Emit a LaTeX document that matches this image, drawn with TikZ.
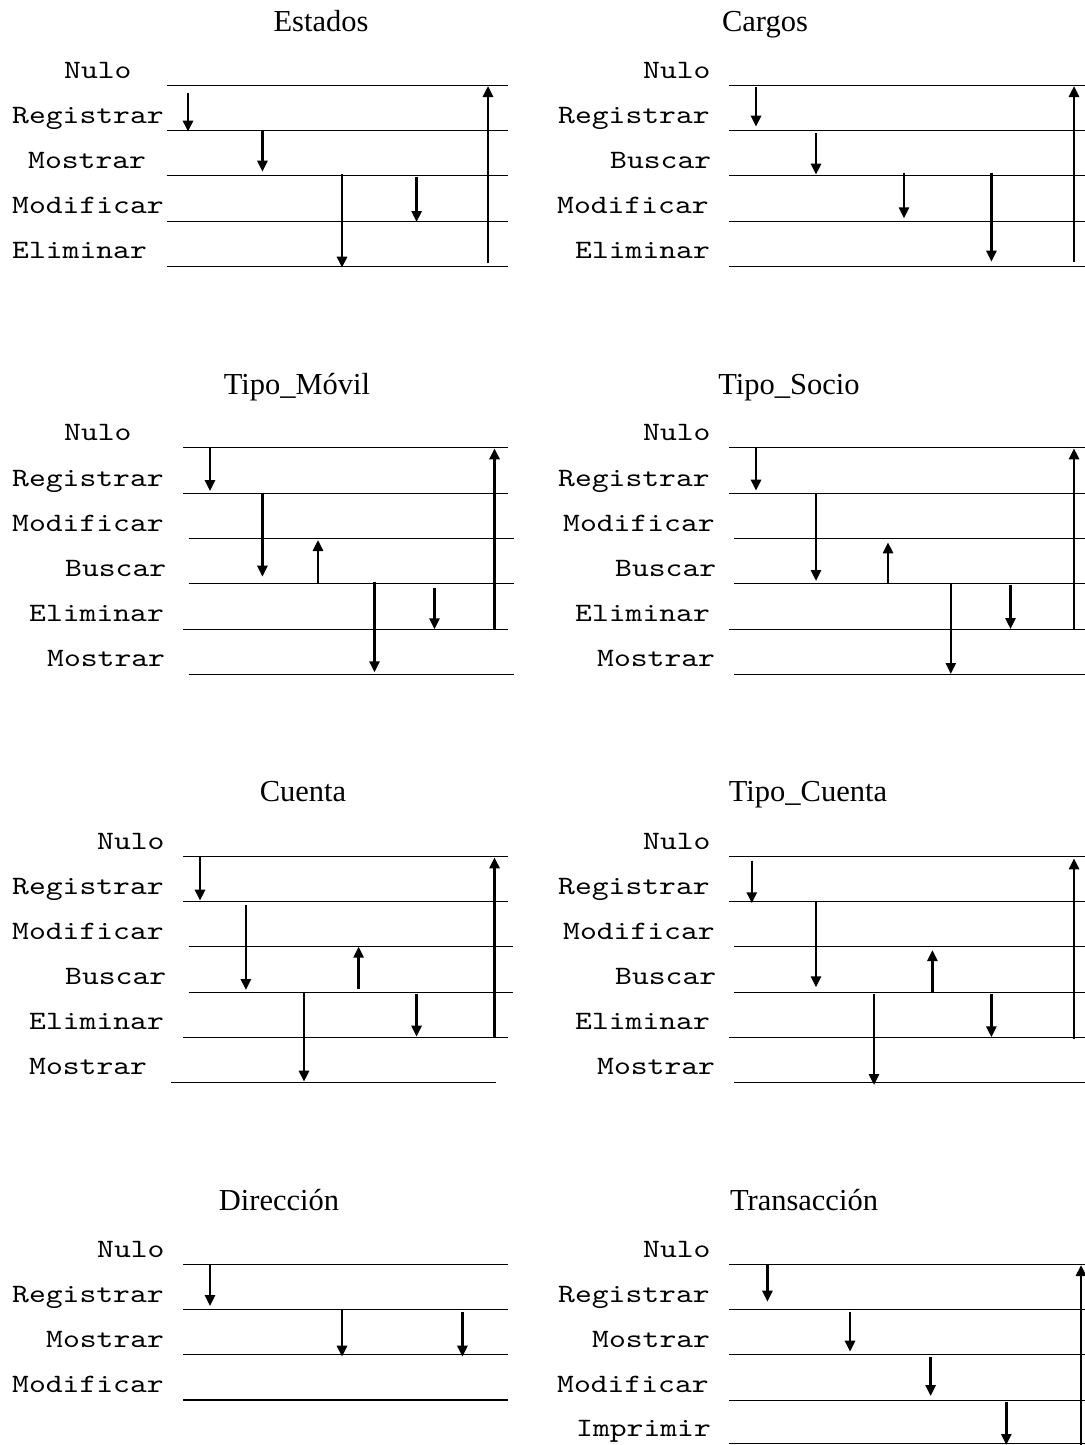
\documentclass[tikz,border=0pt]{standalone}
\usepackage{fontspec}
\setmainfont{Liberation Serif}
\newfontfamily\statefont[FakeStretch=1.21]{lmmono10-regular.otf}
\usetikzlibrary{arrows.meta}

% horizontal state line: name, y, x-from, x-to
\newcommand\statelane[4]{%
  \coordinate (#1-a) at (#3,#2);
  \coordinate (#1-b) at (#4,#2);
  \draw[lane] (#1-a) -- (#1-b);}
% vertical transition arrow: name, x, y-from, y-to
\newcommand\flowarrow[4]{%
  \coordinate (#1-s) at (#2,#3);
  \coordinate (#1-e) at (#2,#4);
  \draw[flow] (#1-s) -- (#1-e);}
% state label: name, x, baseline, text
\newcommand\statelabel[4]{\node[state] (#1) at (#2,#3) {#4};}

\tikzset{
  lane/.style={line width=1.3pt},
  flow/.style={line width=2.6pt, -{Triangle[width=10pt,length=11pt]}},
  title/.style={font=\fontsize{30.5}{36}\selectfont, anchor=base, inner sep=0pt},
  state/.style={font=\statefont\fontsize{26.5}{32}\selectfont, anchor=base west, inner sep=0pt},
}

\begin{document}
\begin{tikzpicture}[x=1pt,y=-1pt]
\fill[white] (0,0) rectangle (1084,1445);
\useasboundingbox (0,0) rectangle (1084,1445);

% ---------------- Estados ----------------
\node[title] (t1) at (321,32) {Estados};
\statelabel{e-nul}{64}{78}{Nulo}
\statelabel{e-reg}{12}{123}{Registrar}
\statelabel{e-mos}{28}{168}{Mostrar}
\statelabel{e-mod}{12}{213}{Modificar}
\statelabel{e-eli}{12}{258}{Eliminar}
\statelane{e1}{85.3}{166.6}{508}
\statelane{e2}{130.7}{166.6}{508}
\statelane{e3}{175.3}{166.6}{508}
\statelane{e4}{221.3}{166.6}{508}
\statelane{e5}{266.3}{166.6}{508}
\flowarrow{ea1}{188}{92.7}{131.7}
\flowarrow{ea2}{262.4}{130.7}{171.7}
\flowarrow{ea3}{342}{174}{267.7}
\flowarrow{ea4}{416.6}{176.7}{222}
\flowarrow{ea5}{488}{263.3}{86}

% ---------------- Cargos ----------------
\node[title] (t2) at (765,32) {Cargos};
\statelabel{c-nul}{643}{78}{Nulo}
\statelabel{c-reg}{558}{123}{Registrar}
\statelabel{c-bus}{610}{168}{Buscar}
\statelabel{c-mod}{557}{213}{Modificar}
\statelabel{c-eli}{575}{258}{Eliminar}
\statelane{c1}{85.7}{729}{1090}
\statelane{c2}{130.7}{729}{1090}
\statelane{c3}{175.3}{729}{1090}
\statelane{c4}{221.3}{729}{1090}
\statelane{c5}{266.3}{729}{1090}
\flowarrow{ca1}{756}{87.3}{126.7}
\flowarrow{ca2}{816}{133}{174.7}
\flowarrow{ca3}{904}{172.7}{218.3}
\flowarrow{ca4}{991.4}{172.7}{261.7}
\flowarrow{ca5}{1074}{261.7}{86}

% ---------------- Tipo_Móvil ----------------
\node[title] (t3) at (297,394) {Tipo\_Móvil};
\statelabel{m-nul}{64}{440}{Nulo}
\statelabel{m-reg}{12}{486}{Registrar}
\statelabel{m-mod}{12}{531}{Modificar}
\statelabel{m-bus}{65}{576}{Buscar}
\statelabel{m-eli}{29}{621.7}{Eliminar}
\statelabel{m-mos}{47}{666.7}{Mostrar}
\statelane{m1}{447.3}{183.4}{508}
\statelane{m2}{493.7}{183.4}{508}
\statelane{m3}{538.3}{188.6}{513.8}
\statelane{m4}{583.3}{188.6}{513.8}
\statelane{m5}{629.3}{183.4}{508}
\statelane{m6}{674.7}{188.6}{513.8}
\flowarrow{ma1}{210}{448.3}{491}
\flowarrow{ma2}{262.4}{492.7}{576.7}
\flowarrow{ma3}{318}{582.7}{540}
\flowarrow{ma4}{374.5}{581.7}{672.3}
\flowarrow{ma5}{434.5}{587.7}{629.3}
\flowarrow{ma6}{494.5}{629.3}{448.3}

% ---------------- Tipo_Socio ----------------
\node[title] (t4) at (789,394) {Tipo\_Socio};
\statelabel{s-nul}{643}{440}{Nulo}
\statelabel{s-reg}{558}{486}{Registrar}
\statelabel{s-mod}{563}{531}{Modificar}
\statelabel{s-bus}{615}{576}{Buscar}
\statelabel{s-eli}{575}{621.7}{Eliminar}
\statelabel{s-mos}{597}{666.7}{Mostrar}
\statelane{s1}{447.3}{729}{1090}
\statelane{s2}{493.7}{729}{1090}
\statelane{s3}{538.3}{734.4}{1090}
\statelane{s4}{583.3}{734.4}{1090}
\statelane{s5}{629.3}{729}{1090}
\statelane{s6}{674.7}{734.4}{1090}
\flowarrow{sa1}{756}{448.3}{490.7}
\flowarrow{sa2}{816}{493.7}{581}
\flowarrow{sa3}{888}{583.3}{542.3}
\flowarrow{sa4}{950.8}{582.7}{674}
\flowarrow{sa5}{1010.5}{585}{629}
\flowarrow{sa6}{1074}{629.3}{448.3}

% ---------------- Cuenta ----------------
\node[title] (t5) at (303,801.7) {Cuenta};
\statelabel{u-nul}{97}{849.3}{Nulo}
\statelabel{u-reg}{12}{894.3}{Registrar}
\statelabel{u-mod}{12}{939.3}{Modificar}
\statelabel{u-bus}{65}{984.3}{Buscar}
\statelabel{u-eli}{29}{1029.3}{Eliminar}
\statelabel{u-mos}{29}{1074.3}{Mostrar}
\statelane{u1}{856.7}{183.4}{508}
\statelane{u2}{901.7}{183.4}{508}
\statelane{u3}{946.7}{188.6}{513}
\statelane{u4}{992.3}{188.6}{513}
\statelane{u5}{1037.3}{183.4}{508}
\statelane{u6}{1082.3}{171.4}{496}
\flowarrow{ua1}{200}{857.3}{900.7}
\flowarrow{ua2}{245.9}{905}{990}
\flowarrow{ua3}{358.6}{989}{946.7}
\flowarrow{ua4}{304}{992.3}{1081.7}
\flowarrow{ua5}{416.6}{994}{1036.7}
\flowarrow{ua6}{494.5}{1037.3}{857.3}

% ---------------- Tipo_Cuenta ----------------
\node[title] (t6) at (808,801.7) {Tipo\_Cuenta};
\statelabel{k-nul}{643}{849.3}{Nulo}
\statelabel{k-reg}{558}{894.3}{Registrar}
\statelabel{k-mod}{563}{939.3}{Modificar}
\statelabel{k-bus}{615}{984.3}{Buscar}
\statelabel{k-eli}{575}{1029.3}{Eliminar}
\statelabel{k-mos}{597}{1074.3}{Mostrar}
\statelane{k1}{856.7}{729}{1090}
\statelane{k2}{901.7}{729}{1090}
\statelane{k3}{946.7}{734.4}{1090}
\statelane{k4}{992.3}{734.4}{1090}
\statelane{k5}{1037.3}{729}{1090}
\statelane{k6}{1082.3}{734.4}{1090}
\flowarrow{ka1}{751.8}{860.7}{903.3}
\flowarrow{ka2}{816}{900.7}{987.3}
\flowarrow{ka3}{932.4}{991.7}{950}
\flowarrow{ka4}{874}{994}{1085}
\flowarrow{ka5}{991.4}{994}{1037.3}
\flowarrow{ka6}{1074}{1039.3}{858.3}

% ---------------- Dirección ----------------
\node[title] (t7) at (279,1210.7) {Dirección};
\statelabel{d-nul}{97}{1257.3}{Nulo}
\statelabel{d-reg}{12}{1302.3}{Registrar}
\statelabel{d-mos}{46}{1347.3}{Mostrar}
\statelabel{d-mod}{12}{1392.3}{Modificar}
\statelane{d1}{1264.3}{183.4}{508}
\statelane{d2}{1309.7}{183.4}{508}
\statelane{d3}{1354.3}{183.4}{508}
\statelane{d4}{1400}{183.4}{508}
\flowarrow{da1}{210}{1265}{1306}
\flowarrow{da2}{342}{1309.7}{1356.7}
\flowarrow{da3}{462.4}{1311.7}{1356.7}

% ---------------- Transacción ----------------
\node[title] (t8) at (804,1210.7) {Transacción};
\statelabel{x-nul}{643}{1257.3}{Nulo}
\statelabel{x-reg}{558}{1302.3}{Registrar}
\statelabel{x-mos}{592}{1347.3}{Mostrar}
\statelabel{x-mod}{557}{1392.3}{Modificar}
\statelabel{x-imp}{576}{1436.7}{Imprimir}
\statelane{x1}{1264.7}{729}{1090}
\statelane{x2}{1309.7}{729}{1090}
\statelane{x3}{1354.3}{729}{1090}
\statelane{x4}{1400.7}{729}{1090}
\statelane{x5}{1443.8}{729}{1090}
\flowarrow{xa1}{767.4}{1265}{1301.7}
\flowarrow{xa2}{850}{1311.7}{1351.7}
\flowarrow{xa3}{930.6}{1357.3}{1396}
\flowarrow{xa4}{1006.3}{1401.7}{1445}
\flowarrow{xa5}{1081}{1452}{1265}
\end{tikzpicture}
\end{document}
